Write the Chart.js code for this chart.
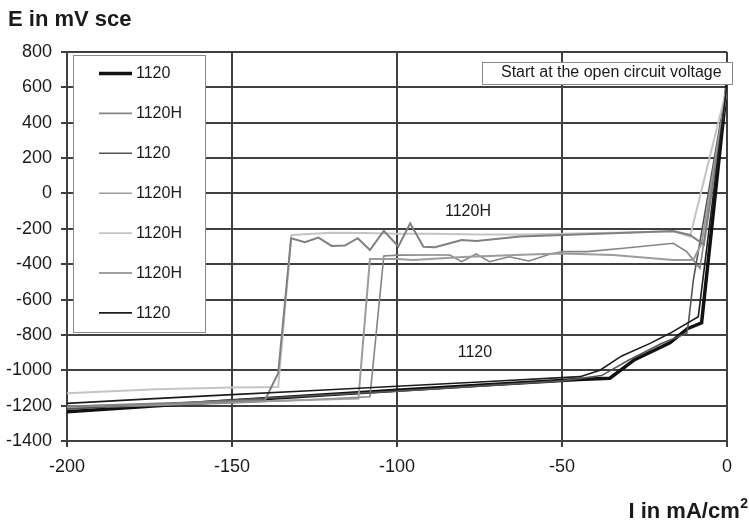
<!DOCTYPE html>
<html>
<head>
<meta charset="utf-8">
<script src="https://cdn.jsdelivr.net/npm/chart.js@4.4.1/dist/chart.umd.min.js"></script>
<style>
  html, body { margin: 0; padding: 0; background: #ffffff; }
  #wrap { position: relative; width: 749px; height: 522px; }
  canvas { display: block; }
</style>
</head>
<body>
<div id="wrap"><canvas id="c" width="749" height="522"></canvas></div>
<script>
// ---- Data ----
const xTicks = [-200, -150, -100, -50, 0];
const yTicks = [-1400, -1200, -1000, -800, -600, -400, -200, 0, 200, 400, 600, 800];
const seriesLabels = ["1120", "1120H", "1120", "1120H", "1120H", "1120H", "1120"];

// Series 1: 1120 (thick black)
const s1X = [0, -7.7, -12, -17.3, -28, -35.5, -45, -75, -100, -125, -150, -175, -200];
const s1Y = [620, -732, -765, -845, -940, -1045, -1052, -1085, -1113, -1143, -1173, -1204, -1234];
// Series 2: 1120H (lower band, jump at about -104)
const s2X = [0, -8.2, -12.2, -16.3, -31.4, -42.5, -49.6, -53.5, -60, -66, -72, -76, -80.4, -84, -92, -99.6, -104, -108.2, -125, -150, -175, -200];
const s2Y = [590, -423, -329, -282, -310, -329, -329, -342, -382, -358, -386, -342, -386, -348, -348, -349, -354, -1150, -1165, -1185, -1200, -1215];
// Series 3: 1120 (dark grey thin)
const s3X = [0, -10.2, -11.7, -12.2, -20, -30, -38, -50, -100, -150, -200];
const s3Y = [615, -490, -734, -790, -850, -945, -1030, -1060, -1118, -1168, -1220];
// Series 4: 1120H (lower band, jump at about -108)
const s4X = [0, -7.7, -10.2, -16.3, -34.5, -50, -60, -80, -95, -100, -108.2, -111.7, -130, -150, -175, -200];
const s4Y = [600, -282, -376, -376, -348, -340, -345, -360, -376, -370, -371, -1160, -1170, -1180, -1195, -1205];
// Series 5: 1120H (light grey, upper band)
const s5X = [0, -11.2, -16, -35, -50, -62, -75, -90, -100, -110, -120, -132, -136, -150, -173, -200];
const s5Y = [600, -244, -215, -222, -228, -232, -232, -228, -228, -224, -222, -235, -1095, -1098, -1107, -1130];
// Series 6: 1120H (grey zigzag, upper band, jump at about -132)
const s6X = [0, -7, -11.2, -16.3, -34.5, -49.6, -62.7, -75.9, -80.4, -84, -88.5, -92, -96, -99.6, -104, -108.2, -111.9, -115.8, -119.8, -123.8, -127.9, -132.1, -136, -140, -150, -175, -200];
const s6Y = [595, -290, -235, -212, -225, -235, -244, -269, -263, -282, -304, -301, -169, -300, -212, -320, -253, -295, -297, -250, -276, -253, -1017, -1168, -1175, -1190, -1205];
// Series 7: 1120 (thin black, upper of the 1120 group)
const s7X = [0, -8.7, -17.3, -23.3, -31.9, -38.5, -44.5, -75, -100, -125, -150, -175, -200];
const s7Y = [620, -697, -791, -848, -919, -1000, -1036, -1066, -1090, -1114, -1138, -1162, -1187];

const seriesX = [s1X, s2X, s3X, s4X, s5X, s6X, s7X];
const seriesY = [s1Y, s2Y, s3Y, s4Y, s5Y, s6Y, s7Y];

// ---- Styles ----
const colors = ["#111111", "#858585", "#555555", "#9c9c9c", "#c4c4c4", "#808080", "#1c1c1c"];
const widths = [3.5, 1.6, 1.6, 2, 2, 2, 1.6];
const FONT = "'Liberation Sans', Arial, Helvetica, sans-serif";
const GRID = "#3f3f3f";

const datasets = seriesLabels.map((lab, i) => ({
  label: lab,
  data: seriesX[i].map((x, k) => ({ x: x, y: seriesY[i][k] })),
  borderColor: colors[i],
  backgroundColor: colors[i],
  borderWidth: widths[i],
  showLine: true,
  pointRadius: 0,
  tension: 0,
  fill: false,
  order: 7 - i
}));

const overlay = {
  id: 'overlay',
  afterDraw(chart) {
    const ctx = chart.ctx;
    const xs = chart.scales.x, ys = chart.scales.y;
    ctx.save();
    // axis titles
    ctx.fillStyle = "#1a1a1a";
    ctx.font = "bold 22px " + FONT;
    ctx.textAlign = "left";
    ctx.textBaseline = "alphabetic";
    ctx.fillText("E in mV sce", 8, 26);
    ctx.font = "bold 14px " + FONT;
    ctx.textAlign = "right";
    const w2 = ctx.measureText("2").width;
    ctx.fillText("2", 748, 508);
    ctx.font = "bold 22px " + FONT;
    ctx.fillText("I in mA/cm", 748 - w2 - 0.5, 518);

    // in-plot labels
    ctx.font = "16px " + FONT;
    ctx.textAlign = "center";
    ctx.textBaseline = "middle";
    ctx.fillText("1120H", xs.getPixelForValue(-78.5), ys.getPixelForValue(-102));
    ctx.fillText("1120", xs.getPixelForValue(-76.4), ys.getPixelForValue(-902));

    // annotation box
    ctx.fillStyle = "#fff";
    ctx.fillRect(482, 62, 251, 22);
    ctx.strokeStyle = "#8a8a8a";
    ctx.lineWidth = 1;
    ctx.strokeRect(482.5, 62.5, 250, 22);
    ctx.fillStyle = "#1a1a1a";
    ctx.textAlign = "left";
    ctx.fillText("Start at the open circuit voltage", 501, 73);

    // legend box
    const bx = 73, by = 55, bw = 133, bh = 278;
    ctx.fillStyle = "#fff";
    ctx.fillRect(bx, by, bw, bh);
    ctx.strokeStyle = "#8a8a8a";
    ctx.strokeRect(bx + 0.5, by + 0.5, bw - 1, bh - 1);
    chart.data.datasets.forEach((ds, i) => {
      const yy = 73.5 + i * 39.9;
      ctx.strokeStyle = ds.borderColor;
      ctx.lineWidth = i === 0 ? 3.5 : 1.6;
      ctx.beginPath();
      ctx.moveTo(99, yy);
      ctx.lineTo(132, yy);
      ctx.stroke();
      ctx.fillStyle = "#1a1a1a";
      ctx.font = "16px " + FONT;
      ctx.textAlign = "left";
      ctx.textBaseline = "middle";
      ctx.fillText(ds.label, 136, yy + 0.5);
    });
    ctx.restore();
  }
};

new Chart(document.getElementById('c'), {
  type: 'scatter',
  data: { datasets: datasets },
  options: {
    responsive: false,
    animation: false,
    devicePixelRatio: 1,
    layout: { padding: { left: 0, top: 52, right: 22, bottom: 0 } },
    plugins: { legend: { display: false }, tooltip: { enabled: false }, title: { display: false } },
    scales: {
      x: {
        type: 'linear',
        min: -200, max: 0,
        afterBuildTicks: (s) => { s.ticks = xTicks.map(v => ({ value: v })); },
        afterFit: (s) => { s.height = 81; },
        grid: { color: GRID, lineWidth: 2, tickLength: 6, drawTicks: true },
        border: { color: GRID, width: 2 },
        ticks: { color: "#1a1a1a", font: { family: FONT, size: 18 }, padding: 9, maxRotation: 0, autoSkip: false,
                 callback: (v) => String(v) }
      },
      y: {
        type: 'linear',
        min: -1400, max: 800,
        afterBuildTicks: (s) => { s.ticks = yTicks.map(v => ({ value: v })); },
        afterFit: (s) => { s.width = 67; },
        grid: { color: GRID, lineWidth: 2, tickLength: 6, drawTicks: true },
        border: { color: GRID, width: 2 },
        ticks: { color: "#1a1a1a", font: { family: FONT, size: 18 }, padding: 9, autoSkip: false,
                 callback: (v) => String(v) }
      }
    }
  },
  plugins: [overlay]
});
</script>
</body>
</html>
